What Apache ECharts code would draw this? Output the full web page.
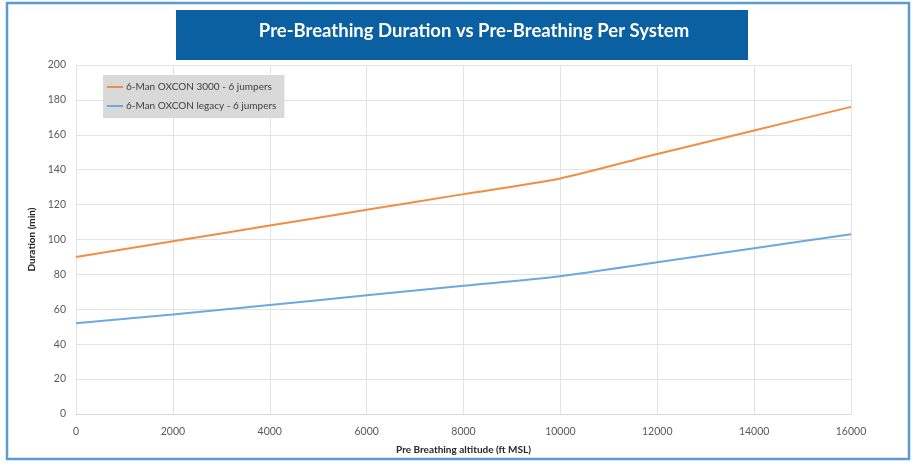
<!DOCTYPE html>
<html><head><meta charset="utf-8">
<script src="https://cdn.jsdelivr.net/npm/echarts@6/dist/echarts.min.js"></script>
<style>html,body{margin:0;padding:0;background:#fff}#c{width:918px;height:466px}</style>
</head><body><div id="c"></div>
<script>
const altitudes = [0, 2000, 4000, 6000, 8000, 10000, 12000, 14000, 16000];
const oxcon3000 = [90, 99, 108, 117, 126, 135, 149, 162.5, 176];
const oxconLegacy = [52, 57, 62.5, 68, 73.5, 79, 87, 95, 103];
const seriesNames = ['6-Man OXCON 3000 - 6 jumpers', '6-Man OXCON legacy - 6 jumpers'];
const titleText = 'Pre-Breathing Duration vs Pre-Breathing Per System';
const xName = 'Pre Breathing altitude (ft MSL)';
const yName = 'Duration (min)';

const FONT = 'Lato, "Open Sans", sans-serif';
const chart = echarts.init(document.getElementById('c'));
chart.setOption({
  backgroundColor: '#fff',
  animation: false,
  graphic: [
    { type: 'rect', shape: { x: 7, y: 3, width: 902, height: 456 }, style: { fill: 'none', stroke: '#5b9bd5', lineWidth: 2.5 }, z: 0 },
    { type: 'rect', shape: { x: 176, y: 10, width: 572, height: 50 }, style: { fill: '#0a60a0' }, z: 1 }
  ],
  title: {
    text: titleText, left: 469, top: 17, textAlign: 'center',
    textStyle: { color: '#fff', fontSize: 18.5, fontWeight: 'bold', fontFamily: FONT }, z: 5
  },
  legend: {
    orient: 'vertical', left: 103, top: 75, backgroundColor: '#d9d9d9',
    padding: [7, 8, 7, 4], itemGap: 9, itemWidth: 16, itemHeight: 2, icon: 'rect',
    textStyle: { fontSize: 10, color: '#404040', fontFamily: FONT, padding: [0, 0, 0, -2] },
    data: seriesNames
  },
  grid: { left: 76, right: 67, top: 65, bottom: 52 },
  xAxis: {
    type: 'value', min: 0, max: 16000, interval: 2000,
    name: xName, nameLocation: 'middle', nameGap: 31,
    nameTextStyle: { fontSize: 10, fontWeight: 'bold', color: '#262626', fontFamily: FONT },
    axisLine: { show: true, lineStyle: { color: '#d9d9d9' } },
    axisTick: { show: false },
    axisLabel: { fontSize: 10.5, color: '#595959', margin: 12, fontFamily: FONT, formatter: v => String(v) },
    splitLine: { show: true, lineStyle: { color: '#e3e3e3' } }
  },
  yAxis: {
    type: 'value', min: 0, max: 200, interval: 20,
    name: yName, nameLocation: 'middle', nameGap: 31,
    nameTextStyle: { fontSize: 10, fontWeight: 'bold', color: '#262626', fontFamily: FONT },
    axisLine: { show: false }, axisTick: { show: false },
    axisLabel: { fontSize: 10.5, color: '#595959', margin: 10, fontFamily: FONT },
    splitLine: { show: true, lineStyle: { color: '#e3e3e3' } }
  },
  series: [
    { name: seriesNames[0], type: 'line', smooth: 0.25, showSymbol: false, symbol: 'none',
      color: '#f28e43', lineStyle: { width: 2, color: '#f28e43' },
      data: altitudes.map((a, i) => [a, oxcon3000[i]]) },
    { name: seriesNames[1], type: 'line', smooth: 0.25, showSymbol: false, symbol: 'none',
      color: '#6fa8dc', lineStyle: { width: 2, color: '#6fa8dc' },
      data: altitudes.map((a, i) => [a, oxconLegacy[i]]) }
  ]
});
</script></body></html>
